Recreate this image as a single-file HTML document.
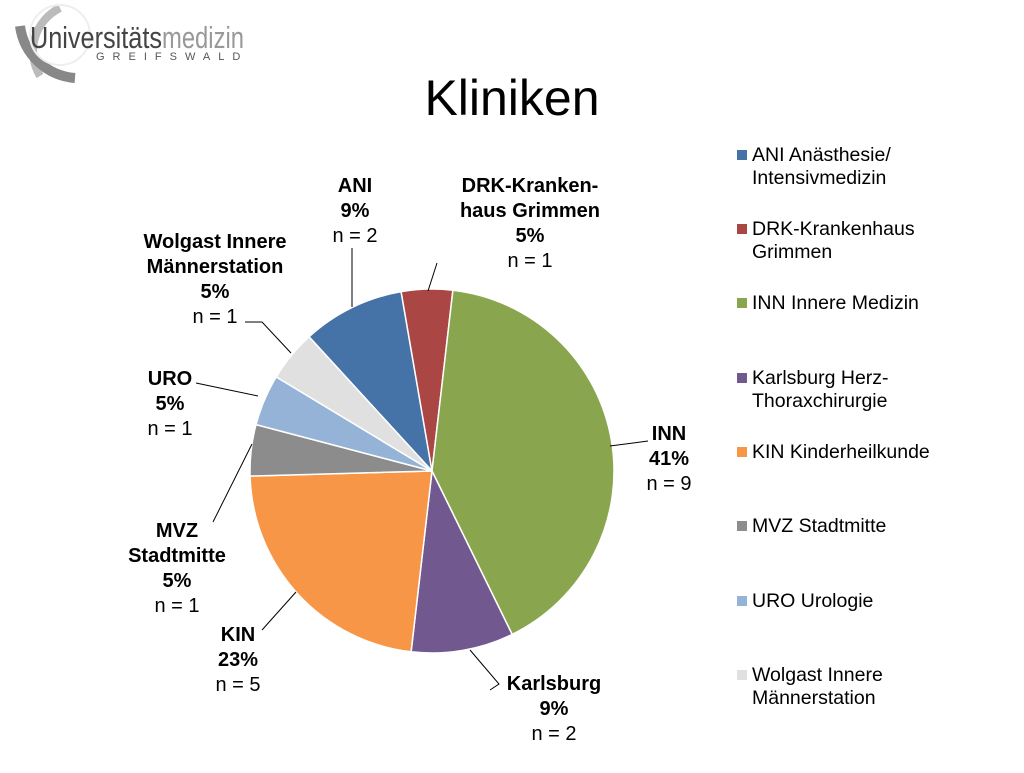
<!DOCTYPE html>
<html><head><meta charset="utf-8"><style>
body{margin:0;width:1024px;height:768px;background:#fff;overflow:hidden;font-family:"Liberation Sans",sans-serif}
</style></head><body>
<svg width="1024" height="768" font-family="Liberation Sans, sans-serif">
<g>
<path d="M60,8 A48,48 0 0 0 40,76" fill="none" stroke="#bbb" stroke-width="8"/>
<path d="M20,26 A60,60 0 0 0 75,78" fill="none" stroke="#888" stroke-width="10"/>
<circle cx="60" cy="35" r="30" fill="none" stroke="#eee" stroke-width="2"/>
<text x="30" y="48" font-size="31" fill="#444" textLength="132" lengthAdjust="spacingAndGlyphs">Universitäts</text>
<text x="162" y="48" font-size="31" fill="#999" textLength="82" lengthAdjust="spacingAndGlyphs">medizin</text>
<text x="96" y="60" font-size="11" fill="#555" letter-spacing="8">GREIFSWALD</text>
</g>
<text x="512" y="115" font-size="50" text-anchor="middle" fill="#000">Kliniken</text>
<g id="pie"></g>
<g id="lines" stroke="#000" stroke-width="1" fill="none">
<polyline points="352,248 352,307"/>
<polyline points="437,263 428,291"/>
<polyline points="245,322 262,322 291,353"/>
<polyline points="196,383 258,396"/>
<polyline points="213,522 252,444"/>
<polyline points="262,630 296,592"/>
<polyline points="490,690 499,684 470,650"/>
<polyline points="648,441 610,446"/>
</g>
<g font-size="20" text-anchor="middle" fill="#000">
<text x="355" y="192" font-weight="bold">ANI</text><text x="355" y="217" font-weight="bold">9%</text><text x="355" y="242">n = 2</text>
<text x="530" y="192" font-weight="bold">DRK-Kranken-</text><text x="530" y="217" font-weight="bold">haus Grimmen</text><text x="530" y="242" font-weight="bold">5%</text><text x="530" y="267">n = 1</text>
<text x="215" y="248" font-weight="bold">Wolgast Innere</text><text x="215" y="273" font-weight="bold">Männerstation</text><text x="215" y="298" font-weight="bold">5%</text><text x="215" y="323">n = 1</text>
<text x="170" y="385" font-weight="bold">URO</text><text x="170" y="410" font-weight="bold">5%</text><text x="170" y="435">n = 1</text>
<text x="177" y="537" font-weight="bold">MVZ</text><text x="177" y="562" font-weight="bold">Stadtmitte</text><text x="177" y="587" font-weight="bold">5%</text><text x="177" y="612">n = 1</text>
<text x="238" y="641" font-weight="bold">KIN</text><text x="238" y="666" font-weight="bold">23%</text><text x="238" y="691">n = 5</text>
<text x="669" y="440" font-weight="bold">INN</text><text x="669" y="465" font-weight="bold">41%</text><text x="669" y="490">n = 9</text>
<text x="554" y="690" font-weight="bold">Karlsburg</text><text x="554" y="715" font-weight="bold">9%</text><text x="554" y="740">n = 2</text>
</g>
<g id="legend" font-size="19.5" fill="#000"></g>
</svg>
<script>
const categories=["ANI","DRK","INN","Karlsburg","KIN","MVZ","URO","Wolgast"];
const counts=[2,1,9,2,5,1,1,1];
const legendLabels=[["ANI Anästhesie/","Intensivmedizin"],["DRK-Krankenhaus","Grimmen"],["INN Innere Medizin"],["Karlsburg Herz-","Thoraxchirurgie"],["KIN Kinderheilkunde"],["MVZ Stadtmitte"],["URO Urologie"],["Wolgast Innere","Männerstation"]];
const colors=["#4572A7","#AA4643","#89A54E","#71588F","#F79646","#8C8C8C","#95B3D7","#E0E0E0"];
const NS="http://www.w3.org/2000/svg";
const cx=432,cy=471,r=182,start=-42.5;
const total=counts.reduce((a,b)=>a+b,0);
function pt(a){const t=a*Math.PI/180;return [cx+r*Math.sin(t),cy-r*Math.cos(t)];}
const pie=document.getElementById('pie');
let a=start;
counts.forEach((v,i)=>{
 const sw=v/total*360,[x1,y1]=pt(a),[x2,y2]=pt(a+sw);
 const p=document.createElementNS(NS,'path');
 p.setAttribute('d',`M${cx},${cy}L${x1},${y1}A${r},${r} 0 ${sw>180?1:0} 1 ${x2},${y2}Z`);
 p.setAttribute('fill',colors[i]);p.setAttribute('stroke','#fff');p.setAttribute('stroke-width','1.5');
 
 
 pie.appendChild(p);a+=sw;
});
const lg=document.getElementById('legend');
const ys=[155,229,303,378,452,526,601,675];
legendLabels.forEach((l,i)=>{
 const g=document.createElementNS(NS,'g');
 
 
 const s=document.createElementNS(NS,'rect');
 s.setAttribute('x',737);s.setAttribute('y',ys[i]-5);s.setAttribute('width',10);s.setAttribute('height',10);s.setAttribute('fill',colors[i]);
 g.appendChild(s);
 l.forEach((t,j)=>{const tx=document.createElementNS(NS,'text');tx.setAttribute('x',752);tx.setAttribute('y',ys[i]+6+j*23);tx.textContent=t;g.appendChild(tx);});
 lg.appendChild(g);
});
</script>
</body></html>
